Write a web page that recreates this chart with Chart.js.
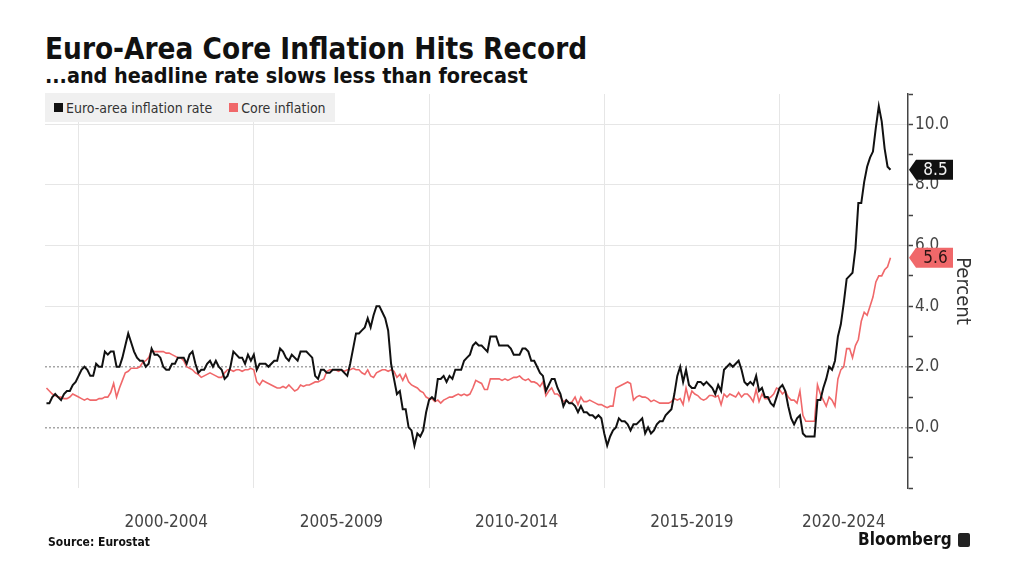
<!DOCTYPE html>
<html>
<head>
<meta charset="utf-8">
<script src="https://cdn.jsdelivr.net/npm/chart.js@4.4.1/dist/chart.umd.min.js"></script>
<style>
  html, body { margin: 0; padding: 0; background: #fff; }
  body { width: 1024px; height: 576px; position: relative; overflow: hidden; }
  .cond { font-family: "DejaVu Sans Condensed", "DejaVu Sans", sans-serif; font-stretch: condensed; }
  #title { position: absolute; left: 45px; top: 35px; font-size: 29.4px; line-height: 1; font-weight: bold; color: #111; white-space: nowrap; }
  #subtitle { position: absolute; left: 45px; top: 65px; font-size: 21.4px; line-height: 1; font-weight: bold; color: #111; white-space: nowrap; }
  #chart { position: absolute; left: 0; top: 0; }
  #legend { position: absolute; left: 45px; top: 93px; width: 290px; height: 29px; background: #f0f0f0; display: flex; align-items: center; font-size: 14px; color: #333; }
  #legend .item { display: flex; align-items: center; white-space: nowrap; }
  #legend .sw { width: 9px; height: 9px; display: inline-block; margin-right: 3px; }
  #source { position: absolute; left: 48px; top: 536px; font-size: 12px; line-height: 1; font-weight: bold; color: #111; }
  #brand { position: absolute; left: 858px; top: 531px; font-size: 17px; line-height: 1; font-weight: bold; color: #111; }
  #logo { position: absolute; left: 958px; top: 533px; width: 12px; height: 14px; background: #222; border-radius: 2px; }
</style>
</head>
<body>
<div id="title" class="cond">Euro-Area Core Inflation Hits Record</div>
<div id="subtitle" class="cond">...and headline rate slows less than forecast</div>
<canvas id="chart" width="1024" height="576"></canvas>
<div id="legend" class="cond"></div>
<div id="source" class="cond">Source: Eurostat</div>
<div id="brand" class="cond">Bloomberg</div>
<div id="logo"></div>
<script>
// ---- Data (monthly, Jan 1999 – Feb 2023) ----
const startYear = 1999;
const seriesNames = ['Euro-area inflation rate', 'Core inflation'];
const headline = [
  0.8,0.8,1.0,1.1,1.0,0.9,1.1,1.2,1.2,1.4,1.5,1.7,
  1.9,2.0,1.9,1.7,1.7,2.1,2.0,2.0,2.5,2.4,2.5,2.5,
  2.0,2.0,2.3,2.7,3.1,2.8,2.5,2.3,2.2,2.2,2.0,2.1,
  2.6,2.4,2.4,2.3,2.0,1.9,1.9,2.1,2.1,2.3,2.3,2.3,
  2.1,2.4,2.5,2.1,1.8,1.9,1.9,2.1,2.2,2.0,2.2,2.0,
  1.9,1.6,1.7,2.0,2.5,2.4,2.3,2.3,2.1,2.4,2.2,2.4,
  1.9,2.1,2.1,2.1,2.0,2.1,2.2,2.2,2.6,2.5,2.3,2.2,
  2.4,2.3,2.2,2.5,2.5,2.5,2.4,2.3,1.7,1.6,1.9,1.9,
  1.8,1.8,1.9,1.9,1.9,1.9,1.8,1.7,2.1,2.6,3.1,3.1,
  3.2,3.3,3.6,3.3,3.7,4.0,4.0,3.8,3.6,3.2,2.1,1.6,
  1.1,1.2,0.6,0.6,0.0,-0.1,-0.6,-0.2,-0.3,-0.1,0.5,0.9,
  1.0,0.9,1.6,1.6,1.7,1.5,1.7,1.6,1.9,1.9,1.9,2.2,
  2.3,2.4,2.7,2.8,2.7,2.7,2.6,2.5,3.0,3.0,3.0,2.7,
  2.7,2.7,2.7,2.6,2.4,2.4,2.4,2.6,2.6,2.5,2.2,2.2,
  2.0,1.8,1.7,1.2,1.4,1.6,1.6,1.3,1.1,0.7,0.9,0.8,
  0.8,0.7,0.5,0.7,0.5,0.5,0.4,0.4,0.3,0.4,0.3,-0.2,
  -0.6,-0.3,-0.1,0.0,0.3,0.2,0.2,0.1,-0.1,0.1,0.1,0.2,
  0.3,-0.2,0.0,-0.2,-0.1,0.1,0.2,0.2,0.4,0.5,0.6,1.1,
  1.7,2.0,1.5,1.9,1.4,1.3,1.3,1.5,1.5,1.4,1.5,1.4,
  1.3,1.1,1.4,1.2,1.9,2.0,2.1,2.0,2.1,2.2,1.9,1.5,
  1.4,1.5,1.4,1.7,1.2,1.3,1.0,1.0,0.8,0.7,1.0,1.3,
  1.4,1.2,0.7,0.3,0.1,0.3,0.4,-0.2,-0.3,-0.3,-0.3,-0.3,
  0.9,0.9,1.3,1.6,2.0,1.9,2.2,3.0,3.4,4.1,4.9,5.0,
  5.1,5.9,7.4,7.4,8.1,8.6,8.9,9.1,9.9,10.6,10.1,9.2,
  8.6,8.5
];
const core = [
  1.3,1.2,1.1,1.05,1.0,1.0,0.95,0.95,1.0,1.1,1.05,1.0,
  0.95,0.9,0.95,0.9,0.9,0.9,0.95,0.95,1.0,1.0,1.15,1.45,
  1.0,1.3,1.55,1.8,1.85,1.95,1.95,1.95,2.0,2.15,2.2,2.3,
  2.55,2.5,2.5,2.5,2.5,2.45,2.45,2.4,2.35,2.3,2.3,2.2,
  2.0,1.95,1.9,1.8,1.75,1.65,1.7,1.75,1.8,1.75,1.7,1.65,
  1.65,1.8,1.9,1.9,1.85,1.9,1.9,1.85,1.9,1.9,1.95,1.9,
  1.5,1.4,1.55,1.5,1.45,1.4,1.35,1.3,1.3,1.35,1.3,1.4,
  1.3,1.2,1.25,1.4,1.35,1.4,1.4,1.45,1.5,1.5,1.55,1.6,
  1.85,1.9,1.9,1.9,1.85,1.9,1.85,1.9,1.9,1.95,1.9,1.9,
  1.8,1.75,1.9,1.7,1.65,1.8,1.85,1.9,1.9,1.85,1.9,1.85,
  1.65,1.75,1.55,1.75,1.5,1.4,1.35,1.3,1.2,1.15,1.0,0.95,
  0.95,0.85,0.9,0.8,0.9,0.95,1.0,1.0,1.05,1.1,1.05,1.1,
  1.05,1.1,1.3,1.55,1.5,1.45,1.25,1.25,1.6,1.6,1.6,1.6,
  1.55,1.6,1.55,1.6,1.65,1.65,1.7,1.6,1.55,1.6,1.5,1.5,
  1.45,1.35,1.5,1.05,1.2,1.3,1.1,1.1,1.0,0.85,0.9,0.8,
  0.85,1.0,0.75,1.0,0.85,0.85,0.9,0.85,0.8,0.75,0.75,0.7,
  0.65,0.7,0.7,1.3,1.35,1.4,1.45,1.5,1.45,0.9,1.0,1.05,
  1.0,1.0,0.95,0.85,0.9,0.85,0.8,0.8,0.8,0.8,0.85,0.95,
  0.9,0.95,0.75,1.3,0.9,1.2,1.1,1.05,0.95,0.9,0.95,1.05,
  1.05,1.0,1.05,0.75,1.1,1.0,1.1,1.05,1.0,1.15,1.0,1.1,
  1.1,1.0,0.85,1.25,0.85,1.1,0.95,0.95,1.0,1.1,1.3,1.25,
  1.1,1.2,1.0,0.9,0.9,0.8,1.2,0.4,0.2,0.2,0.2,0.2,
  1.4,1.1,0.9,0.7,1.0,0.9,0.7,1.6,1.9,2.0,2.6,2.6,
  2.3,2.7,2.9,3.5,3.8,3.7,4.0,4.3,4.8,5.0,5.0,5.2,
  5.3,5.6
];
const xTickLabels = ['2000-2004', '2005-2009', '2010-2014', '2015-2019', '2020-2024'];
const yTickValues = [0, 2, 4, 6, 8, 10];
const yAxisTitle = 'Percent';

// ---- Styling / layout constants ----
const FONT = '"DejaVu Sans Condensed", "DejaVu Sans", sans-serif';
const COLORS = ['#111111', '#f0686a'];
const TAG_TEXT = ['#f2f2f2', '#2a1414'];
const X_MIN = 0.5, X_MAX = 296;   // months since Jan 1999
const Y_MIN = -2, Y_MAX = 11;

// legend (HTML)
const legendEl = document.getElementById('legend');
seriesNames.forEach((n, i) => {
  const it = document.createElement('span');
  it.className = 'item';
  it.style.marginLeft = i === 0 ? '9px' : '17px';
  const sw = document.createElement('span');
  sw.className = 'sw';
  sw.style.background = COLORS[i];
  it.appendChild(sw);
  it.appendChild(document.createTextNode(n));
  legendEl.appendChild(it);
});

// month-end positions
const toPoints = arr => arr.map((v, i) => ({ x: i + 1, y: v }));

// x ticks: grid lines at start of each period, labels centred in visible span
const periodStart = xTickLabels.map(l => (parseInt(l.slice(0, 4), 10) - startYear) * 12);
const periodLabelPos = xTickLabels.map((l, i) => {
  const e = Math.min((parseInt(l.slice(5), 10) + 1 - startYear) * 12, X_MAX);
  return (periodStart[i] + e) / 2;
});

const tagPlugin = {
  id: 'lastValueTags',
  afterDraw(chart) {
    const { ctx, chartArea, scales } = chart;
    chart.data.datasets.forEach((ds, i) => {
      const last = ds.data[ds.data.length - 1].y;
      const py = scales.y.getPixelForValue(last);
      const x0 = chartArea.right + 1, tip = 7, w = 44, h = 20;
      ctx.save();
      ctx.beginPath();
      ctx.moveTo(x0, py);
      ctx.lineTo(x0 + tip, py - h / 2);
      ctx.lineTo(x0 + w, py - h / 2);
      ctx.lineTo(x0 + w, py + h / 2);
      ctx.lineTo(x0 + tip, py + h / 2);
      ctx.closePath();
      ctx.fillStyle = COLORS[i];
      ctx.fill();
      ctx.fillStyle = TAG_TEXT[i];
      ctx.font = '17px ' + FONT;
      ctx.textAlign = 'center';
      ctx.textBaseline = 'middle';
      ctx.fillText(last.toFixed(1), x0 + (tip + w) / 2 + 1, py + 1);
      ctx.restore();
    });
  }
};

new Chart(document.getElementById('chart'), {
  type: 'line',
  data: {
    datasets: [
      { label: seriesNames[0], data: toPoints(headline), borderColor: COLORS[0], borderWidth: 2, pointRadius: 0, tension: 0 },
      { label: seriesNames[1], data: toPoints(core), borderColor: COLORS[1], borderWidth: 1.6, pointRadius: 0, tension: 0 }
    ]
  },
  options: {
    responsive: false,
    animation: false,
    devicePixelRatio: 1,
    layout: { padding: { left: 45, top: 94, right: 0, bottom: 0 }, autoPadding: false },
    plugins: { legend: { display: false }, tooltip: { enabled: false }, title: { display: false } },
    scales: {
      x: {
        type: 'linear', min: X_MIN, max: X_MAX,
        afterBuildTicks: s => { s.ticks = periodStart.concat(periodLabelPos).sort((a, b) => a - b).map(v => ({ value: v })); },
        afterFit: s => { s.height = 576 - 488; },
        grid: {
          color: c => (c.tick && periodStart.includes(c.tick.value)) ? '#e6e6e6' : 'rgba(0,0,0,0)',
          lineWidth: 1, drawTicks: false
        },
        border: { display: false },
        ticks: {
          autoSkip: false, maxRotation: 0, minRotation: 0, padding: 24,
          color: '#444', font: { family: FONT, size: 17 },
          callback: v => { const k = periodLabelPos.indexOf(v); return k >= 0 ? xTickLabels[k] : ''; }
        }
      },
      y: {
        type: 'linear', position: 'right', min: Y_MIN, max: Y_MAX,
        afterBuildTicks: s => { const t = []; for (let v = Y_MIN; v <= Y_MAX; v++) t.push({ value: v }); s.ticks = t; },
        afterFit: s => { s.width = 1024 - 908; },
        grid: {
          color: c => {
            if (!c.tick) return 'rgba(0,0,0,0)';
            const v = c.tick.value;
            if (v === 0 || v === 2) return '#a6a6a6';
            if (v >= 4 && v % 2 === 0) return '#e6e6e6';
            return 'rgba(0,0,0,0)';
          },
          lineWidth: c => (c.tick && (c.tick.value === 0 || c.tick.value === 2)) ? 1.5 : 1,
          drawTicks: true, tickLength: 5, tickColor: '#444', tickWidth: 1.5
        },
        border: {
          display: true, color: '#444', width: 1.5,
          dash: c => (c.tick && (c.tick.value === 0 || c.tick.value === 2)) ? [2, 2] : []
        },
        ticks: {
          padding: 2, color: '#444', font: { family: FONT, size: 17 },
          callback: v => yTickValues.includes(v) ? v.toFixed(1) : ''
        },
        title: {
          display: true, text: yAxisTitle, color: '#333',
          font: { family: FONT, size: 20 }, padding: { top: 50, bottom: 0 }
        }
      }
    }
  },
  plugins: [tagPlugin]
});
</script>
</body>
</html>
